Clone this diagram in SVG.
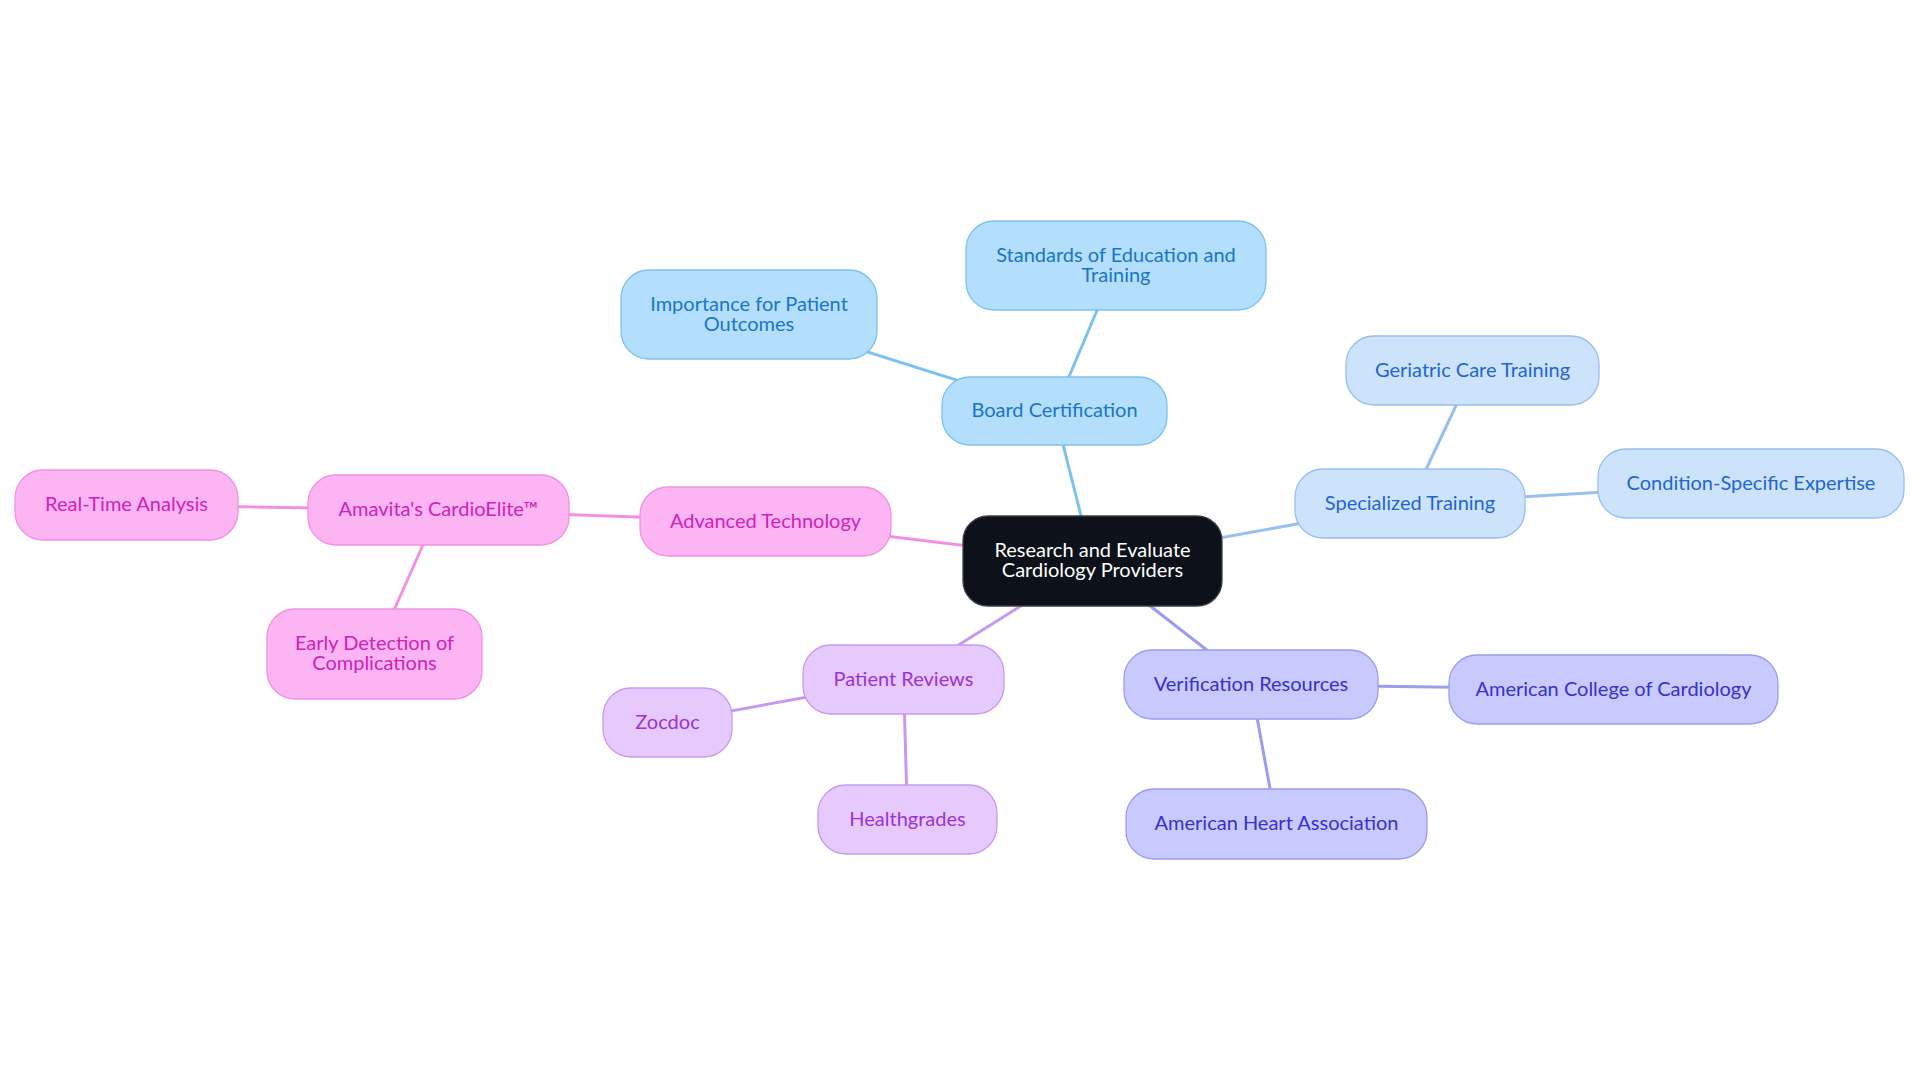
<svg xmlns="http://www.w3.org/2000/svg" width="1920" height="1083" viewBox="0 0 1920 1083">
<style>
text{font-family:Lato,"Liberation Sans",sans-serif;font-size:20px;text-anchor:middle}
.n rect{stroke-width:1.3}
.root rect{fill:#0c111a;stroke:#3a3f47}
.root text{fill:#ffffff}
.b1 rect{fill:#b4dffc;stroke:#7dc1f0}
.b1 text{fill:#1a74c9}
.b2 rect{fill:#cde3fb;stroke:#97c0f0}
.b2 text{fill:#1e66d0}
.b3 rect{fill:#fcb4f3;stroke:#f091e2}
.b3 text{fill:#cf22b8}
.b4 rect{fill:#e7cafd;stroke:#c79af0}
.b4 text{fill:#9a32d8}
.b5 rect{fill:#c8c9fc;stroke:#9b9df0}
.b5 text{fill:#3632c9}
#edges line{stroke-width:3;stroke-linecap:round}
.e1{stroke:#7dc1f0}.e2{stroke:#97c0f0}.e3{stroke:#f091e2}.e4{stroke:#c79af0}.e5{stroke:#9b9df0}
</style>
<rect width="1920" height="1083" fill="#ffffff"/>
<g id="edges">
<line class="e1" x1="1092.5" y1="561" x2="1054.5" y2="411"/>
<line class="e1" x1="1054.5" y1="411" x2="1116" y2="265.5"/>
<line class="e1" x1="1054.5" y1="411" x2="749" y2="314.5"/>
<line class="e2" x1="1092.5" y1="561" x2="1410" y2="503.5"/>
<line class="e2" x1="1410" y1="503.5" x2="1472.5" y2="370.5"/>
<line class="e2" x1="1410" y1="503.5" x2="1751" y2="483.5"/>
<line class="e3" x1="1092.5" y1="561" x2="765.5" y2="521.5"/>
<line class="e3" x1="765.5" y1="521.5" x2="438.5" y2="510"/>
<line class="e3" x1="438.5" y1="510" x2="126.5" y2="505"/>
<line class="e3" x1="438.5" y1="510" x2="374.5" y2="654"/>
<line class="e4" x1="1092.5" y1="561" x2="903.5" y2="679.5"/>
<line class="e4" x1="903.5" y1="679.5" x2="667.5" y2="722.5"/>
<line class="e4" x1="903.5" y1="679.5" x2="907.5" y2="819.5"/>
<line class="e5" x1="1092.5" y1="561" x2="1251" y2="684.5"/>
<line class="e5" x1="1251" y1="684.5" x2="1613.5" y2="689.5"/>
<line class="e5" x1="1251" y1="684.5" x2="1276.5" y2="824"/>
</g>
<g id="root" class="n root"><rect x="963" y="516" width="259" height="90" rx="25"/><text x="1092.5" y="557">Research and Evaluate</text><text x="1092.5" y="577">Cardiology Providers</text></g>
<g id="board" class="n b1"><rect x="942" y="377" width="225" height="68" rx="28"/><text x="1054.5" y="417">Board Certification</text></g>
<g id="standards" class="n b1"><rect x="966" y="221" width="300" height="89" rx="28"/><text x="1116" y="262">Standards of Education and</text><text x="1116" y="282">Training</text></g>
<g id="importance" class="n b1"><rect x="621" y="270" width="256" height="89" rx="28"/><text x="749" y="311">Importance for Patient</text><text x="749" y="331">Outcomes</text></g>
<g id="specialized" class="n b2"><rect x="1295" y="469" width="230" height="69" rx="28"/><text x="1410" y="510">Specialized Training</text></g>
<g id="geriatric" class="n b2"><rect x="1346" y="336" width="253" height="69" rx="28"/><text x="1472.5" y="377">Geriatric Care Training</text></g>
<g id="condition" class="n b2"><rect x="1598" y="449" width="306" height="69" rx="28"/><text x="1751" y="490">Condition-Specific Expertise</text></g>
<g id="advanced" class="n b3"><rect x="640" y="487" width="251" height="69" rx="28"/><text x="765.5" y="528">Advanced Technology</text></g>
<g id="amavita" class="n b3"><rect x="308" y="475" width="261" height="70" rx="28"/><text x="438.5" y="516">Amavita's CardioElite™</text></g>
<g id="realtime" class="n b3"><rect x="15" y="470" width="223" height="70" rx="28"/><text x="126.5" y="511">Real-Time Analysis</text></g>
<g id="early" class="n b3"><rect x="267" y="609" width="215" height="90" rx="28"/><text x="374.5" y="650">Early Detection of</text><text x="374.5" y="670">Complications</text></g>
<g id="reviews" class="n b4"><rect x="803" y="645" width="201" height="69" rx="28"/><text x="903.5" y="686">Patient Reviews</text></g>
<g id="zocdoc" class="n b4"><rect x="603" y="688" width="129" height="69" rx="28"/><text x="667.5" y="729">Zocdoc</text></g>
<g id="healthgrades" class="n b4"><rect x="818" y="785" width="179" height="69" rx="28"/><text x="907.5" y="826">Healthgrades</text></g>
<g id="verification" class="n b5"><rect x="1124" y="650" width="254" height="69" rx="28"/><text x="1251" y="691">Verification Resources</text></g>
<g id="acc" class="n b5"><rect x="1449" y="655" width="329" height="69" rx="28"/><text x="1613.5" y="696">American College of Cardiology</text></g>
<g id="aha" class="n b5"><rect x="1126" y="789" width="301" height="70" rx="28"/><text x="1276.5" y="830">American Heart Association</text></g>
</svg>
